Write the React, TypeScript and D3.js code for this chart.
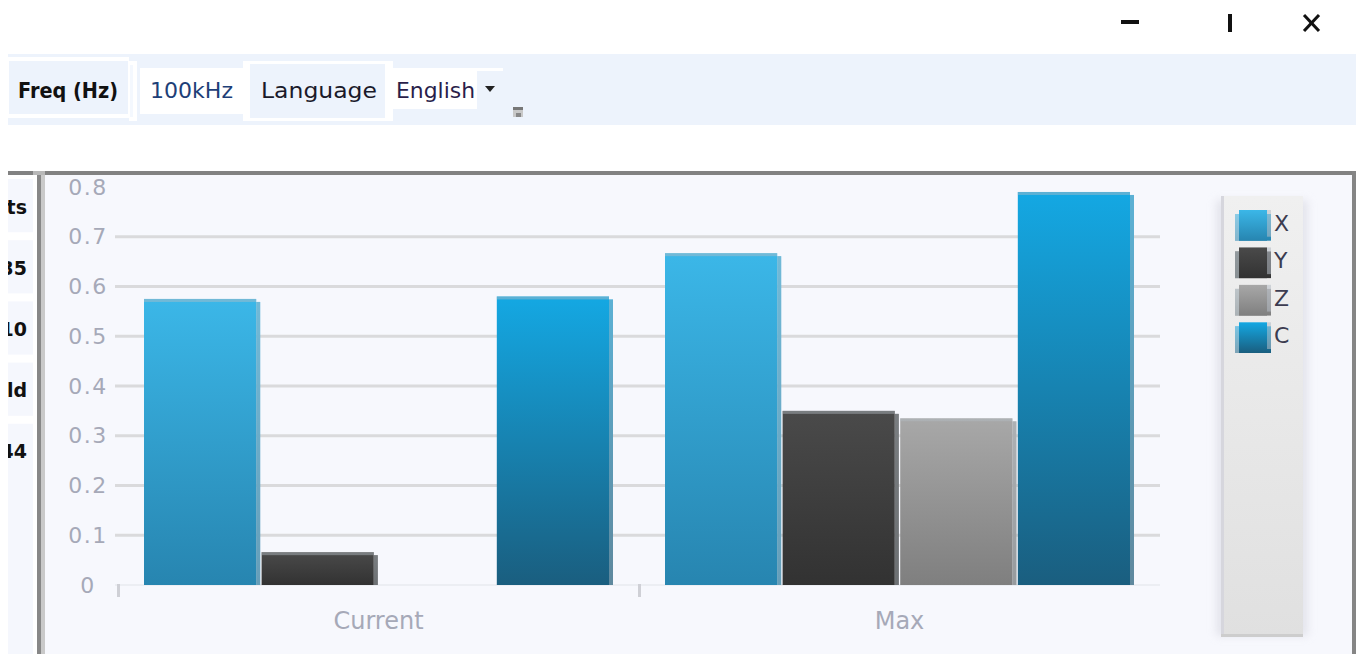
import React from "react";
import * as d3 from "d3";

const categories = ["Current", "Max"];
const seriesNames = ["X", "Y", "Z", "C"];
const valuesX = [0.575, 0.667];
const valuesY = [0.066, 0.35];
const valuesZ = [0, 0.335];
const valuesC = [0.58, 0.79];
const yTickValues = [0, 0.1, 0.2, 0.3, 0.4, 0.5, 0.6, 0.7, 0.8];
const sidebarLabels = ["ts", "35", "10", "ld", "44"];
const toolbarLabels = ["Freq (Hz)", "100kHz", "Language", "English"];

const seriesValues: Record<string, number[]> = { X: valuesX, Y: valuesY, Z: valuesZ, C: valuesC };
const seriesTop: Record<string, string> = { X: "#3bb7e8", Y: "#4a4a4a", Z: "#a8a8a8", C: "#14a8e3" };
const seriesBottom: Record<string, string> = { X: "#2785b0", Y: "#323232", Z: "#7f7f7f", C: "#1a5e7f" };

const W = 1356;
const H = 654;

export default function App() {
  const x0 = d3.scaleBand<string>().domain(categories).range([118, 1160]);
  const x1 = d3.scaleBand<string>().domain(seriesNames).range([26, 495]).paddingInner(0.012);
  const y = d3.scaleLinear().domain([0, 0.8]).range([585, 187]);
  const legendY = d3.scaleBand<string>().domain(seriesNames).range([210, 353]).paddingInner(0.18);
  const sideY = d3.scaleBand<string>().domain(sidebarLabels).range([179, 477]).paddingInner(0.13);

  const font = "'DejaVu Sans', sans-serif";
  const axisColor = "#a6a9b8";

  return (
    <svg width={W} height={H} style={{ position: "absolute", left: 0, top: 0, background: "#ffffff" }}>
      <defs>
        {seriesNames.map((s) => (
          <linearGradient key={s} id={`g-${s}`} x1="0" y1="0" x2="0" y2="1">
            <stop offset="0%" stopColor={seriesTop[s]} />
            <stop offset="100%" stopColor={seriesBottom[s]} />
          </linearGradient>
        ))}
        <linearGradient id="legendBg" x1="0" y1="0" x2="0" y2="1">
          <stop offset="0%" stopColor="#f0f0f0" />
          <stop offset="100%" stopColor="#e0e0e0" />
        </linearGradient>
        <filter id="blur" x="-50%" y="-10%" width="200%" height="120%">
          <feGaussianBlur stdDeviation="4" />
        </filter>
        <clipPath id="sideClip">
          <rect x={8} y={175} width={25} height={479} />
        </clipPath>
      </defs>

      {/* window controls */}
      <rect x={1121} y={20} width={18} height={4} fill="#111" />
      <rect x={1228} y={14} width={4} height={18} fill="#111" />
      <line x1={1304} y1={15} x2={1319} y2={31} stroke="#111" strokeWidth={3} />
      <line x1={1319} y1={15} x2={1304} y2={31} stroke="#111" strokeWidth={3} />

      {/* toolbar band */}
      <rect x={8} y={54} width={W - 8} height={71} fill="#edf3fc" />
      {/* Freq box */}
      <rect x={8} y={57} width={121} height={61} fill="#ffffff" />
      <rect x={9} y={61} width={119} height={53} fill="#edf3fc" />
      <rect x={129} y={61} width={8} height={60} fill="#ffffff" />
      <rect x={130} y={65} width={3} height={52} fill="#f4f8fe" />
      {/* 100kHz box */}
      <rect x={140} y={68} width={103} height={46} fill="#ffffff" />
      {/* Language box */}
      <rect x={243} y={61} width={150} height={60} fill="#ffffff" />
      <rect x={250} y={64} width={135} height={54} fill="#edf3fc" />
      {/* English box */}
      <rect x={393} y={68} width={84} height={41} fill="#ffffff" />
      <rect x={477} y={68} width={26} height={3} fill="#ffffff" />
      <path d="M485,86 L495,86 L490,92 Z" fill="#222" />
      <rect x={513} y={107} width={10} height={3} fill="#777" />
      <rect x={513} y={110} width={10} height={7} fill="#c8c8c8" />
      <rect x={516} y={113} width={5} height={4} fill="#888" />

      <text x={18} y={91} dominantBaseline="central" fontFamily={font} fontSize={21} fontWeight={700} fill="#111" textLength={100} lengthAdjust="spacingAndGlyphs">{toolbarLabels[0]}</text>
      <text x={150} y={91} dominantBaseline="central" fontFamily={font} fontSize={21} fill="#1e3f78" textLength={83} lengthAdjust="spacingAndGlyphs">{toolbarLabels[1]}</text>
      <text x={261} y={91} dominantBaseline="central" fontFamily={font} fontSize={21} fill="#1a1a2a" textLength={116} lengthAdjust="spacingAndGlyphs">{toolbarLabels[2]}</text>
      <text x={396} y={91} dominantBaseline="central" fontFamily={font} fontSize={21} fill="#2a1e4a" textLength={79} lengthAdjust="spacingAndGlyphs">{toolbarLabels[3]}</text>

      {/* chart frame */}
      <rect x={45} y={175} width={1307} height={479} fill="#f7f8fd" />
      <rect x={8} y={171} width={W - 8} height={4} fill="#828282" />
      <rect x={33} y={171} width={12} height={4} fill="#b8b8b8" />
      <rect x={37} y={175} width={4} height={479} fill="#878787" />
      <rect x={41} y={175} width={4} height={479} fill="#c9c9c9" />
      <rect x={1352} y={171} width={4} height={483} fill="#858585" />

      {/* sidebar */}
      <g clipPath="url(#sideClip)">
        {sidebarLabels.map((s) => (
          <g key={s}>
            <rect x={8} y={sideY(s)} width={25} height={sideY.bandwidth()} fill="#f5f7fd" />
            <text x={27} y={(sideY(s) as number) + sideY.bandwidth() / 2 + 1} textAnchor="end" dominantBaseline="central" fontFamily={font} fontSize={19} fontWeight={700} fill="#111">{s}</text>
          </g>
        ))}
        <rect x={8} y={477} width={25} height={177} fill="#f5f7fd" />
      </g>

      {/* gridlines */}
      {yTickValues.filter((t) => t > 0 && t < 0.8).map((t) => (
        <rect key={`g${t}`} x={115} y={y(t) - 1.5} width={1045} height={3} fill="#dadadc" />
      ))}
      <rect x={115} y={584} width={1045} height={2} fill="#eceef3" />
      {x0.domain().map((c) => (
        <rect key={`tk${c}`} x={(x0(c) as number) - 1} y={584} width={3} height={13} fill="#cfd0d6" />
      ))}

      {/* y labels */}
      {yTickValues.map((t) => (
        <text key={`yl${t}`} x={88} y={y(t)} textAnchor="middle" dominantBaseline="central" fontFamily={font} fontSize={22} letterSpacing={1.5} fill={axisColor}>
          {t === 0 ? "0" : d3.format(".1f")(t)}
        </text>
      ))}

      {/* x labels */}
      {categories.map((c) => (
        <text key={`xl${c}`} x={(x0(c) as number) + x0.bandwidth() / 2} y={621} textAnchor="middle" dominantBaseline="central" fontFamily={font} fontSize={24} fill={axisColor}>
          {c}
        </text>
      ))}

      {/* bars */}
      {categories.map((c, ci) =>
        seriesNames.map((s) => {
          const v = seriesValues[s][ci];
          if (!v) return null;
          const bx = (x0(c) as number) + (x1(s) as number);
          const bw = x1.bandwidth();
          const top = y(v);
          const bottom = y(0);
          return (
            <g key={`${c}-${s}`}>
              <rect x={bx} y={top} width={bw - 4} height={bottom - top} fill={`url(#g-${s})`} />
              <rect x={bx + bw - 4} y={top + 3} width={4} height={bottom - top - 3} fill={`url(#g-${s})`} />
              <rect x={bx} y={top} width={bw - 4} height={3} fill="#b4bcc4" opacity={0.45} />
              <rect x={bx + bw - 4} y={top + 3} width={4} height={bottom - top - 3} fill="#b4bcc4" opacity={0.45} />
            </g>
          );
        })
      )}

      {/* legend */}
      <rect x={1216} y={200} width={92} height={436} fill="#d4d4de" opacity={0.55} filter="url(#blur)" />
      <rect x={1221} y={196} width={82} height={441} fill="url(#legendBg)" />
      <rect x={1221} y={196} width={3} height={441} fill="#d6d6dd" />
      <rect x={1221} y={634} width={82} height={3} fill="#cdcdcd" />
      {seriesNames.map((s) => {
        const ly = legendY(s) as number;
        const lh = legendY.bandwidth();
        return (
          <g key={`lg${s}`}>
            <rect x={1235} y={ly + 4} width={36} height={lh - 4} fill={`url(#g-${s})`} />
            <rect x={1239} y={ly} width={28} height={lh} fill={`url(#g-${s})`} />
            <rect x={1235} y={ly + 4} width={4} height={lh - 4} fill="#d0dce4" opacity={0.55} />
            <rect x={1267} y={ly} width={4} height={lh - 4} fill="#b4bcc4" opacity={0.55} />
            <text x={1274} y={ly + lh / 2 - 2} dominantBaseline="central" fontFamily={font} fontSize={22} fill="#3c3c50">{s}</text>
          </g>
        );
      })}
    </svg>
  );
}
